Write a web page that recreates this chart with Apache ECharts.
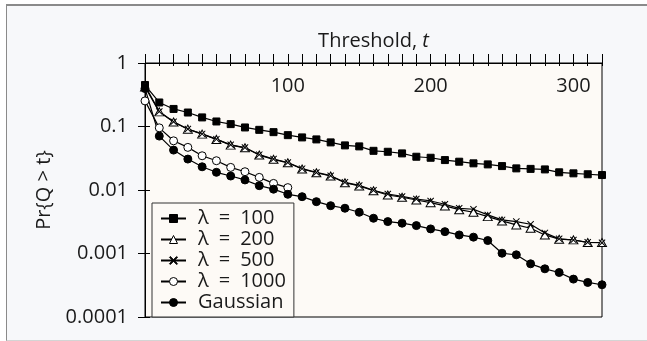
<!DOCTYPE html>
<html>
<head>
<meta charset="utf-8">
<script src="https://cdn.jsdelivr.net/npm/echarts@6/dist/echarts.min.js"></script>
<style>
  html, body { margin: 0; padding: 0; background: #ffffff; overflow: hidden; }
  #frame {
    position: absolute; left: 6px; top: 4px; width: 700px; height: 334px;
    background: #f7f8fa;
    border-top: 2px solid #8a8a8a; border-left: 1px solid #8a8a8a; border-bottom: 1px solid #d4d4d4;
  }
  #chart { position: absolute; left: 0; top: 0; width: 647px; height: 341px; }
</style>
</head>
<body>
<div id="frame"></div>
<div id="chart"></div>
<script>
// Threshold values t (queue length) on the top axis
const thresholds = [0, 10, 20, 30, 40, 50, 60, 70, 80, 90, 100, 110, 120, 130, 140, 150, 160,
  170, 180, 190, 200, 210, 220, 230, 240, 250, 260, 270, 280, 290, 300, 310, 320];

// Pr{Q > t} for each source model
const lambda100 = [0.45, 0.239, 0.189, 0.166, 0.139, 0.120, 0.109, 0.0966, 0.0886, 0.0815, 0.0731,
  0.0673, 0.0626, 0.0562, 0.0504, 0.0486, 0.0414, 0.0400, 0.0377, 0.0334, 0.0322, 0.0296, 0.0279,
  0.0263, 0.0253, 0.0238, 0.0219, 0.0215, 0.0211, 0.0190, 0.0183, 0.0177, 0.0172];
const lambda200 = [0.42, 0.170, 0.118, 0.0908, 0.0758, 0.0626, 0.0509, 0.0462, 0.0355, 0.0304, 0.0268,
  0.0214, 0.0187, 0.0166, 0.0130, 0.0116, 0.00975, 0.00834, 0.00768, 0.00696, 0.00632, 0.00561, 0.00490,
  0.00446, 0.00381, 0.00326, 0.00282, 0.00250, 0.00196, 0.00168, 0.00164, 0.00149, 0.00149];
const lambda500 = [0.44, 0.172, 0.119, 0.0915, 0.0765, 0.0632, 0.0515, 0.0466, 0.0360, 0.0308, 0.0271,
  0.0217, 0.0189, 0.0168, 0.0132, 0.0118, 0.0099, 0.00865, 0.00791, 0.00722, 0.00672, 0.00596, 0.00515,
  0.00498, 0.00405, 0.00338, 0.00318, 0.00289, 0.00211, 0.00170, 0.00163, 0.00150, 0.00148];
const lambda1000 = [0.253, 0.0952, 0.0595, 0.0469, 0.0346, 0.0289, 0.0227, 0.0194, 0.0158, 0.0127, 0.0109,
  null, null, null, null, null, null, null, null, null, null, null, null,
  null, null, null, null, null, null, null, null, null, null];
const gaussian = [0.396, 0.0706, 0.0425, 0.0307, 0.0232, 0.0190, 0.0166, 0.0144, 0.0117, 0.0103, 0.00856,
  0.00785, 0.00655, 0.00566, 0.00516, 0.00446, 0.00359, 0.00318, 0.00300, 0.00275, 0.00244, 0.00221, 0.00196,
  0.00181, 0.00160, 0.00101, 0.000953, 0.000688, 0.000574, 0.000502, 0.000395, 0.000350, 0.000322];

// Series names (en spaces give the λ labels their wide setting)
const seriesNames = ['λ\u2002=\u2002100', 'λ\u2002=\u2002200', 'λ\u2002=\u2002500', 'λ\u2002=\u20021000', 'Gaussian'];
const xTickLabels = [100, 200, 300];
const yTickLabels = ['1', '0.1', '0.01', '0.001', '0.0001'];

const FONT = '"Open Sans", "Noto Sans", sans-serif';
const INK = '#1a1a1a';
const CROSS = 'path://M0,1L1,0L5,4L9,0L10,1L6,5L10,9L9,10L5,6L1,10L0,9L4,5Z';

function makeSeries(name, values, symbol, size, fill, border) {
  return {
    name: name,
    type: 'line',
    xAxisIndex: 0,
    yAxisIndex: 0,
    data: thresholds.map((t, i) => values[i] == null ? null : [t, values[i]]).filter(d => d),
    symbol: symbol,
    symbolSize: size,
    showSymbol: true,
    showAllSymbol: true,
    lineStyle: { color: '#000', width: 1.2 },
    itemStyle: { color: fill, borderColor: '#000', borderWidth: border },
    emphasis: { disabled: true },
    silent: true
  };
}

const yLabelFor = v => {
  const e = Math.round(-Math.log10(v));
  return yTickLabels[e] !== undefined ? yTickLabels[e] : '';
};

const chart = echarts.init(document.getElementById('chart'), null, { renderer: 'canvas' });
chart.setOption({
  animation: false,
  backgroundColor: 'transparent',
  textStyle: { fontFamily: FONT },
  grid: {
    left: 145, top: 63, right: 45, bottom: 24,
    show: true, backgroundColor: '#fdfaf6', borderColor: '#000', borderWidth: 1
  },
  xAxis: [
    {
      type: 'value', position: 'top', min: 0, max: 320, interval: 10,
      name: '{a|Threshold, }{b|t}', nameLocation: 'middle', nameGap: 12,
      nameTextStyle: {
        rich: {
          a: { fontFamily: FONT, fontSize: 20, color: INK },
          b: { fontFamily: FONT, fontSize: 20, color: INK, fontStyle: 'italic' }
        }
      },
      axisLine: { show: true, lineStyle: { color: '#000', width: 1 } },
      axisTick: { show: true, inside: false, length: 9, lineStyle: { color: '#000', width: 1 } },
      axisLabel: {
        inside: true, margin: 13, fontSize: 20, color: INK, fontFamily: FONT,
        formatter: v => xTickLabels.indexOf(v) >= 0 ? String(v) : ''
      },
      splitLine: { show: false }
    },
    {
      type: 'value', position: 'top', min: 0, max: 320, interval: 10,
      axisLine: { show: false },
      axisTick: { show: true, inside: true, length: 3, lineStyle: { color: '#000', width: 1 } },
      axisLabel: { show: false },
      splitLine: { show: false }
    }
  ],
  yAxis: [
    {
      type: 'log', logBase: 10, min: 0.0001, max: 1, position: 'left',
      name: 'Pr{Q > t}', nameLocation: 'middle', nameGap: 78, nameRotate: 90,
      nameTextStyle: { fontFamily: FONT, fontSize: 20, color: INK },
      axisLine: { show: true, lineStyle: { color: '#000', width: 1 } },
      axisTick: { show: true, inside: false, length: 7, lineStyle: { color: '#000', width: 1 } },
      axisLabel: { margin: 17, fontSize: 20, color: INK, fontFamily: FONT, formatter: yLabelFor },
      splitLine: { show: false }
    },
    {
      type: 'log', logBase: 10, min: 0.0001, max: 1, position: 'left',
      axisLine: { show: false },
      axisTick: { show: true, inside: true, length: 5, lineStyle: { color: '#000', width: 1 } },
      axisLabel: { show: false },
      splitLine: { show: false }
    }
  ],
  legend: {
    orient: 'vertical', left: 152, top: 203,
    padding: [5, 8, 4, 8],
    itemWidth: 25, itemHeight: 10, itemGap: 0,
    backgroundColor: '#fdfaf6', borderColor: '#333', borderWidth: 1, borderRadius: 0,
    itemStyle: { borderWidth: 1 },
    textStyle: { fontFamily: FONT, fontSize: 20, lineHeight: 21, color: INK, padding: [0, 0, 0, 7] },
    selectedMode: false,
    data: seriesNames
  },
  series: [
    makeSeries(seriesNames[0], lambda100, 'rect', 7, '#000', 1),
    makeSeries(seriesNames[1], lambda200, 'triangle', [9, 8], '#fff', 1),
    makeSeries(seriesNames[2], lambda500, CROSS, 7, '#000', 0),
    makeSeries(seriesNames[3], lambda1000, 'circle', 8, '#fff', 1),
    makeSeries(seriesNames[4], gaussian, 'circle', 8, '#000', 1)
  ]
});
</script>
</body>
</html>
